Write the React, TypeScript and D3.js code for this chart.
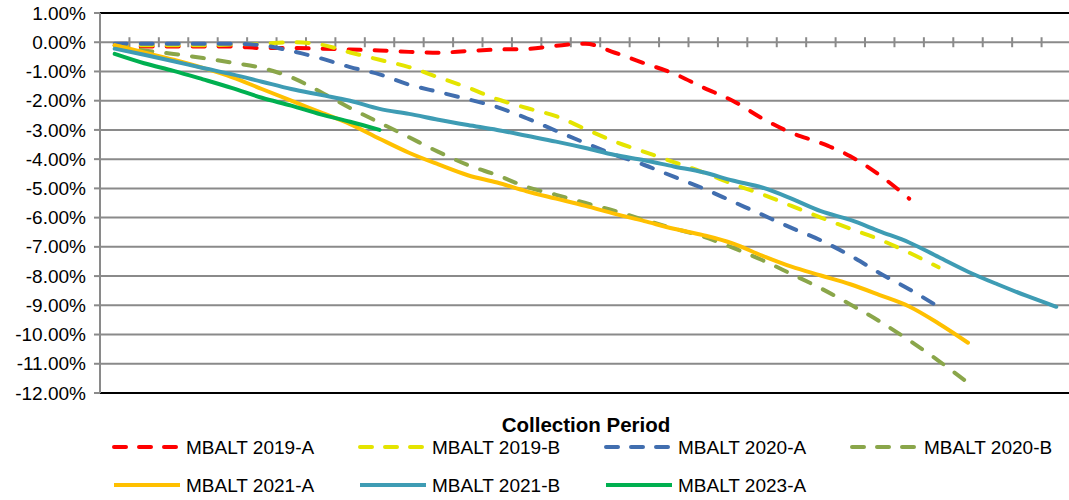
import * as React from "react";
import * as d3 from "d3";

const periods = [1, 2, 3, 4, 5, 6, 7, 8, 9, 10, 11, 12, 13, 14, 15, 16, 17, 18, 19, 20, 21, 22, 23, 24, 25, 26, 27, 28, 29, 30, 31, 32, 33];

const yTicks = [1, 0, -1, -2, -3, -4, -5, -6, -7, -8, -9, -10, -11, -12];

const mbalt2019A = [-0.1, -0.15, -0.15, -0.15, -0.15, -0.2, -0.2, -0.22, -0.25, -0.28, -0.33, -0.36, -0.3, -0.25, -0.23, -0.12, -0.05, -0.36, -0.72, -1.07, -1.55, -2.0, -2.6, -3.1, -3.45, -3.9, -4.55, -5.35];
const mbalt2019B = [-0.12, -0.1, -0.1, -0.1, -0.08, -0.05, 0.0, -0.08, -0.35, -0.6, -0.85, -1.2, -1.55, -1.95, -2.25, -2.53, -2.97, -3.4, -3.75, -4.1, -4.45, -4.85, -5.2, -5.6, -6.0, -6.38, -6.75, -7.2, -7.7];
const mbalt2020A = [-0.05, -0.05, -0.05, -0.05, -0.05, -0.1, -0.3, -0.55, -0.85, -1.1, -1.45, -1.7, -1.95, -2.22, -2.6, -3.03, -3.45, -3.85, -4.2, -4.6, -5.0, -5.45, -5.9, -6.35, -6.78, -7.3, -7.9, -8.45, -9.05];
const mbalt2020B = [-0.12, -0.28, -0.4, -0.54, -0.7, -0.88, -1.2, -1.7, -2.25, -2.75, -3.25, -3.75, -4.2, -4.55, -4.95, -5.22, -5.5, -5.77, -6.08, -6.37, -6.65, -7.03, -7.45, -7.93, -8.42, -8.97, -9.55, -10.2, -10.9, -11.65];
const mbalt2021A = [-0.1, -0.35, -0.6, -0.88, -1.2, -1.6, -2.0, -2.4, -2.8, -3.3, -3.78, -4.18, -4.55, -4.8, -5.1, -5.35, -5.6, -5.87, -6.12, -6.38, -6.6, -6.88, -7.3, -7.68, -7.98, -8.28, -8.65, -9.04, -9.62, -10.28];
const mbalt2021B = [-0.22, -0.43, -0.65, -0.88, -1.1, -1.35, -1.6, -1.8, -2.0, -2.28, -2.45, -2.65, -2.83, -3.0, -3.2, -3.4, -3.62, -3.86, -4.04, -4.25, -4.45, -4.73, -4.97, -5.35, -5.78, -6.08, -6.47, -6.85, -7.35, -7.85, -8.28, -8.68, -9.05];
const mbalt2023A = [-0.4, -0.72, -0.98, -1.27, -1.57, -1.9, -2.17, -2.47, -2.72, -3.0];

const seriesNames = ["MBALT 2019-A", "MBALT 2019-B", "MBALT 2020-A", "MBALT 2020-B", "MBALT 2021-A", "MBALT 2021-B", "MBALT 2023-A"];
const seriesValues = [mbalt2019A, mbalt2019B, mbalt2020A, mbalt2020B, mbalt2021A, mbalt2021B, mbalt2023A];
const seriesColors = ["#FF0000", "#E4E400", "#416EAF", "#8AA64A", "#FFC000", "#3E9CB4", "#00B050"];
const seriesDashed = [true, true, true, true, false, false, false];

const FONT = "'Liberation Sans', Arial, sans-serif";

export default function App() {
  const width = 1069;
  const height = 500;
  const plot = { left: 100, right: 1071, top: 13, bottom: 393 };

  const x = d3.scaleBand<number>()
    .domain(periods)
    .range([plot.left, plot.right]);
  const y = d3.scaleLinear()
    .domain([-12, 1])
    .range([plot.bottom, plot.top]);

  const cx = (i: number) => x(periods[i])! + x.bandwidth() / 2;
  const line = d3.line<number>()
    .x((_, i) => cx(i))
    .y(d => y(d))
    .curve(d3.curveMonotoneX);

  const dash = "12 14";

  return (
    <div style={{ position: "absolute", left: 0, top: 0 }}>
      <svg width={width} height={height} style={{ display: "block", background: "#fff" }}>
        {/* grid lines */}
        {yTicks.map(t => (
          <line key={"g" + t}
            x1={plot.left} x2={width} y1={y(t)} y2={y(t)}
            stroke={t === 1 || t === -12 ? "#000" : "#8a8a8a"}
            strokeWidth={2} />
        ))}
        {/* y axis */}
        <line x1={plot.left} x2={plot.left} y1={plot.top} y2={plot.bottom} stroke="#8a8a8a" strokeWidth={2} />
        {yTicks.map(t => (
          <g key={"t" + t}>
            <line x1={plot.left - 6} x2={plot.left} y1={y(t)} y2={y(t)} stroke="#8a8a8a" strokeWidth={2} />
            <text x={86} y={y(t)} dy="0.35em" textAnchor="end" fontFamily={FONT} fontSize={19} fill="#000">
              {t.toFixed(2) + "%"}
            </text>
          </g>
        ))}
        {/* x axis at zero with category tick marks */}
        {periods.slice(1).map(p => (
          <line key={"x" + p} x1={x(p)!} x2={x(p)!} y1={y(0) - 5} y2={y(0) + 5} stroke="#8a8a8a" strokeWidth={2} />
        ))}
        {/* series */}
        {seriesValues.map((vals, k) => (
          <path key={seriesNames[k]}
            d={line(vals)!}
            fill="none"
            stroke={seriesColors[k]}
            strokeWidth={4}
            strokeLinecap="round"
            strokeLinejoin="round"
            strokeDasharray={seriesDashed[k] ? dash : undefined} />
        ))}
        {/* axis title */}
        <text x={586} y={432} textAnchor="middle" fontFamily={FONT} fontWeight="bold" fontSize={20.5}>Collection Period</text>
        {/* legend */}
        {seriesNames.map((name, k) => {
          const col = k % 4;
          const row = Math.floor(k / 4);
          const lx = 112 + col * 246;
          const ly = 447 + row * 38;
          return (
            <g key={"l" + name}>
              <line x1={lx + 2} x2={lx + 68} y1={ly} y2={ly}
                stroke={seriesColors[k]} strokeWidth={4} strokeLinecap={seriesDashed[k] ? "round" : "butt"}
                strokeDasharray={seriesDashed[k] ? "12 13" : undefined} />
              <text x={lx + 74} y={ly} dy="0.35em" fontFamily={FONT} fontSize={19}>{name}</text>
            </g>
          );
        })}
      </svg>
    </div>
  );
}
